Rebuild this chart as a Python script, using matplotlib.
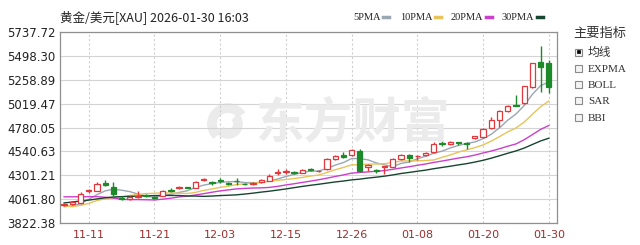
import matplotlib
matplotlib.use('Agg')
import matplotlib.pyplot as plt
import numpy as np
import pandas as pd
from matplotlib.patches import Rectangle, Arc
from matplotlib.lines import Line2D

# daily OHLC (XAU/USD)
opens = [4000, 4010, 4020, 4140, 4148, 4225, 4188, 4075, 4065, 4080,
         4105, 4080, 4098, 4155, 4170, 4180, 4178, 4250, 4237, 4250,
         4220, 4248, 4218, 4210, 4235, 4247, 4325, 4330, 4335, 4326,
         4360, 4340, 4365, 4464, 4500, 4504, 4543, 4385, 4350, 4380,
         4385, 4464, 4504, 4490, 4505, 4533, 4620, 4612, 4632, 4625,
         4671, 4681, 4780, 4859, 4948, 5010, 5027, 5185, 5432, 5422]
highs = [4020, 4045, 4138, 4165, 4237, 4257, 4235, 4095, 4090, 4140,
         4115, 4090, 4155, 4170, 4195, 4185, 4245, 4277, 4240, 4270,
         4230, 4275, 4225, 4230, 4260, 4310, 4365, 4360, 4345, 4365,
         4375, 4355, 4475, 4505, 4530, 4560, 4563, 4415, 4365, 4395,
         4470, 4510, 4510, 4500, 4530, 4632, 4650, 4640, 4635, 4630,
         4698, 4780, 4889, 4955, 5010, 5106, 5200, 5430, 5600, 5461]
lows = [3995, 4005, 4015, 4125, 4140, 4195, 4070, 4055, 4050, 4075,
        4085, 4060, 4090, 4135, 4160, 4172, 4170, 4240, 4200, 4225,
        4205, 4200, 4208, 4200, 4225, 4240, 4300, 4310, 4310, 4320,
        4340, 4335, 4355, 4455, 4470, 4495, 4336, 4345, 4320, 4316,
        4380, 4455, 4434, 4455, 4495, 4525, 4595, 4605, 4600, 4563,
        4665, 4675, 4770, 4790, 4940, 4995, 5020, 5180, 5136, 5126]
closes = [4015, 4035, 4118, 4150, 4215, 4205, 4118, 4068, 4080, 4090,
          4095, 4070, 4148, 4148, 4185, 4178, 4237, 4262, 4225, 4245,
          4215, 4240, 4215, 4222, 4250, 4296, 4336, 4340, 4325, 4356,
          4352, 4348, 4464, 4494, 4485, 4553, 4346, 4400, 4340, 4390,
          4464, 4504, 4474, 4498, 4520, 4612, 4610, 4632, 4628, 4615,
          4691, 4770, 4859, 4948, 4997, 5000, 5195, 5422, 5382, 5185]
# closes before the visible window (late Sep - early Nov), for the averages
prior_closes = [3760, 3833, 3858, 3866, 3857, 3886, 3960, 3985, 4040, 3975,
                4018, 4110, 4143, 4208, 4326, 4250, 4356, 4125, 4095, 4126,
                4112, 3982, 3952, 3930, 4025, 4002, 4001, 3933, 3981]

ma_windows = [5, 10, 20, 30]
ma_names = ['5PMA', '10PMA', '20PMA', '30PMA']
ma_colors = ['#9aa6b4', '#e8c35a', '#cc3fcc', '#17452f']

y_ticks = [3822.38, 4061.80, 4301.21, 4540.63, 4780.05,
           5019.47, 5258.89, 5498.30, 5737.72]
y_labels = ['3822.38', '4061.80', '4301.21', '4540.63', '4780.05',
            '5019.47', '5258.89', '5498.30', '5737.72']

indicators = ['均线', 'EXPMA', 'BOLL', 'SAR', 'BBI']

dates = pd.bdate_range('2025-11-06', '2026-01-30')
dates = dates[~dates.isin(pd.to_datetime(['2025-12-25', '2026-01-01']))]

W, H = 640, 245
UP = '#e0383c'
DOWN = '#1d8a2a'
WM = '#ebebeb'


def fx(px):
    return px / W


def fy(py):
    return 1 - py / H


plt.rcParams['font.family'] = ['DejaVu Sans']
cjk = ['Noto Sans CJK SC', 'DejaVu Sans']

fig = plt.figure(figsize=(6.4, 2.45), dpi=100)
fig.patch.set_facecolor('white')
ax = fig.add_axes([fx(60), fy(223), fx(557) - fx(60), fy(32) - fy(223)])

# watermark: logo swirl + name
fig.text(fx(352), fy(123), '东方财富', family=cjk, fontsize=35,
         fontweight='bold', color=WM, ha='center', va='center', zorder=0)
for r, a1, a2 in [(16, 60, 250), (10, 240, 430)]:
    fig.add_artist(Arc((fx(228), fy(124)), 2 * r / W, 2 * r / H,
                       theta1=a1, theta2=a2, transform=fig.transFigure,
                       color=WM, lw=7, zorder=0))

n = len(closes)
x = np.arange(n)
all_closes = pd.Series(prior_closes + closes)
for w, name, c in zip(ma_windows, ma_names, ma_colors):
    ma = all_closes.rolling(w).mean().values[len(prior_closes):]
    ax.plot(x, ma, color=c, lw=1.0, zorder=2)

for i in range(n):
    o, h, l, c = opens[i], highs[i], lows[i], closes[i]
    col = UP if c >= o else DOWN
    ax.vlines(i, l, h, color=col, lw=1.0, zorder=3)
    lo, hi = min(o, c), max(o, c)
    fc = 'white' if c >= o else DOWN
    ax.add_patch(Rectangle((i - 0.32, lo), 0.64, max(hi - lo, 1),
                           facecolor=fc, edgecolor=col, lw=0.9, zorder=4))

ax.set_xlim(-0.5, n)
ax.set_ylim(y_ticks[0], y_ticks[-1])
ax.set_yticks(y_ticks)
ax.set_yticklabels(y_labels)
tick_idx = list(range(3, n, 8))
ax.set_xticks(tick_idx)
ax.set_xticklabels([dates[i].strftime('%m-%d') for i in tick_idx])
ax.tick_params(axis='y', length=0, pad=3, labelsize=8.5, labelcolor='#222222')
ax.tick_params(axis='x', length=0, pad=5, labelsize=8, labelcolor='#9c2e2e')
ax.grid(axis='y', color='#d4d4d4', lw=0.8)
ax.grid(axis='x', color='#cfcfcf', lw=0.8, ls=(0, (2, 2)))
ax.set_axisbelow(True)
ax.set_facecolor('none')
for s in ax.spines.values():
    s.set_color('#8f8f8f')
    s.set_linewidth(0.9)

# header
fig.text(fx(60), fy(17), '黄金/美元[XAU] 2026-01-30 16:03', family=cjk,
         fontsize=9, color='#222222', va='center')
leg_x = [353, 400, 451, 502]
for lx, name, c in zip(leg_x, ma_names, ma_colors):
    t = fig.text(fx(lx), fy(17), name, fontsize=7.5, color='#222222',
                 va='center', family=['Liberation Serif'])
    fig.canvas.draw()
    bb = t.get_window_extent()
    x0 = bb.x1 + 2
    fig.add_artist(Line2D([x0 / W, (x0 + 6) / W], [fy(17), fy(17)],
                          color=c, lw=2.5, transform=fig.transFigure))

# right side indicator panel
fig.text(fx(573), fy(33), '主要指标', family=cjk, fontsize=9.5,
         color='#333333', va='center')
row_y = [52, 69, 85, 101, 118]
for k, (label, ry) in enumerate(zip(indicators, row_y)):
    fig.add_artist(Rectangle((fx(575), fy(ry + 3.5)), 7 / W, 7 / H,
                             transform=fig.transFigure, facecolor='#f4f4f4',
                             edgecolor='#8a8a8a', lw=0.8))
    if k == 0:
        fig.add_artist(Rectangle((fx(577), fy(ry + 1.5)), 3 / W, 3 / H,
                                 transform=fig.transFigure,
                                 facecolor='black', edgecolor='black', lw=0.5))
    fam = cjk if k == 0 else ['Liberation Serif']
    fig.text(fx(588), fy(ry), label, family=fam, fontsize=8.5 if k == 0 else 8,
             color='#333333', va='center')

fig.savefig('out.png', dpi=100, facecolor='white')
